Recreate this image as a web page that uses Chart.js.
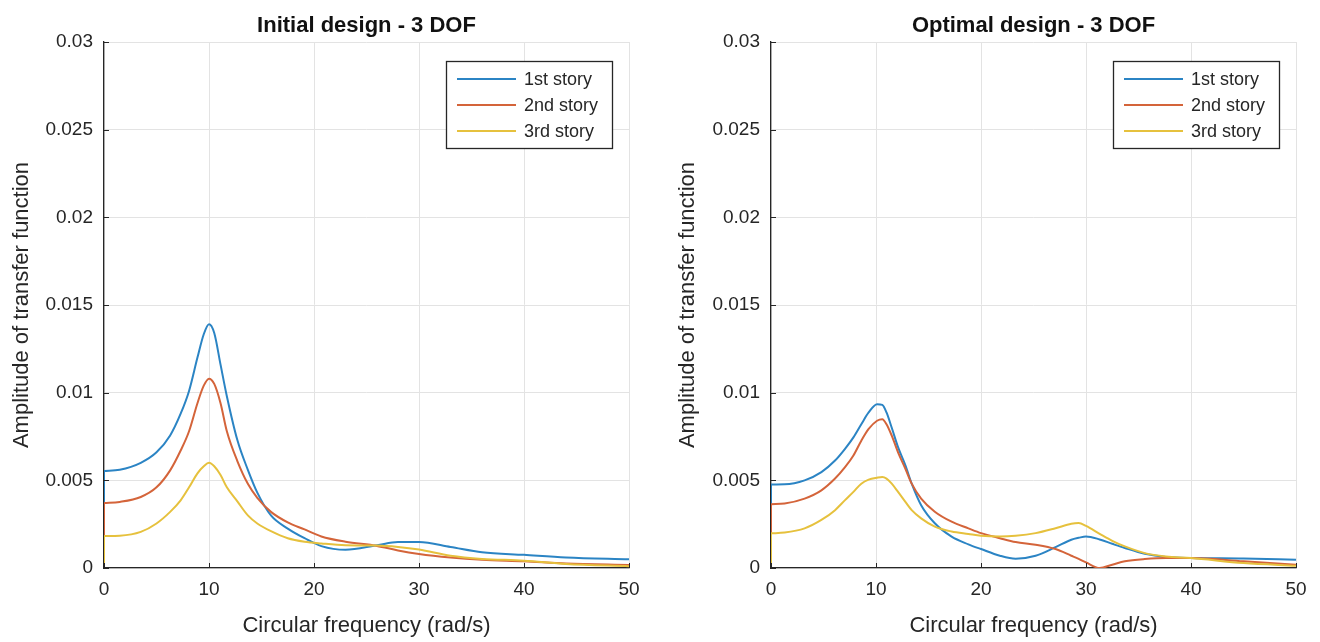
<!DOCTYPE html>
<html>
<head>
<meta charset="utf-8">
<title>Transfer function - 3 DOF</title>
<script src="https://cdn.jsdelivr.net/npm/chart.js@4.4.1/dist/chart.umd.min.js"></script>
<style>
  body { margin: 0; background: #ffffff; }
  .panel { position: absolute; top: 0; width: 660px; height: 642px; }
  #leftPanel { left: 0; }
  #rightPanel { left: 660px; }
</style>
</head>
<body>
<div class="panel" id="leftPanel"><canvas id="initialChart" width="660" height="642"></canvas></div>
<div class="panel" id="rightPanel"><canvas id="optimalChart" width="660" height="642"></canvas></div>
<script>
// series names and tick labels
const seriesLabels = ['1st story', '2nd story', '3rd story'];
const xTickLabels = ['0', '10', '20', '30', '40', '50'];
const yTickLabels = ['0', '0.005', '0.01', '0.015', '0.02', '0.025', '0.03'];

// Initial design
const freqInitial = [0, 1.5, 3.5, 5, 6.3, 7.3, 8.1, 8.9, 9.5, 10, 10.5, 11.1, 11.7, 12.7, 13.7, 14.6, 15.9, 17.5, 19.1, 20.7, 23, 26, 28, 30, 33, 36, 40, 44, 50];
const initial1st = [0.00553, 0.0056, 0.006, 0.0066, 0.00756, 0.0088, 0.0101, 0.012, 0.01333, 0.0139, 0.0134, 0.0116, 0.0098, 0.0073, 0.0056, 0.0043, 0.0030, 0.00225, 0.0017, 0.00125, 0.00104, 0.0013, 0.00148, 0.00148, 0.0012, 0.0009, 0.00075, 0.0006, 0.0005];
const initial2nd = [0.0037, 0.00377, 0.00405, 0.0046, 0.00557, 0.0067, 0.0078, 0.0094, 0.0104, 0.0108, 0.0105, 0.0094, 0.0078, 0.0061, 0.0048, 0.0040, 0.0032, 0.0026, 0.0022, 0.0018, 0.0015, 0.00126, 0.0010, 0.0008, 0.0006, 0.00047, 0.00038, 0.00026, 0.00017];
const initial3rd = [0.00182, 0.00184, 0.00206, 0.00254, 0.0032, 0.00386, 0.0046, 0.0054, 0.0058, 0.0060, 0.0058, 0.0053, 0.0046, 0.0038, 0.0030, 0.00254, 0.0021, 0.0017, 0.0015, 0.0014, 0.0013, 0.00128, 0.0012, 0.00105, 0.0007, 0.00052, 0.00042, 0.00023, 0.0001];

// Optimal design
const freqOptimal = [0, 1.3, 3.2, 4.8, 6.1, 7.05, 7.85, 8.6, 9.3, 10.1, 10.6, 11, 11.5, 12.1, 12.8, 13.4, 14.3, 15.6, 17.2, 18.8, 20, 21.8, 23.3, 25.2, 27.1, 28.6, 29.3, 30, 31.3, 32.5, 33.7, 35.6, 37.6, 40, 45, 50];
const optimal1st = [0.00476, 0.00477, 0.005, 0.00547, 0.00613, 0.0068, 0.00745, 0.0082, 0.00887, 0.00934, 0.0093, 0.00887, 0.008, 0.00689, 0.00585, 0.00481, 0.00358, 0.00255, 0.00179, 0.00135, 0.00108, 0.0007, 0.00053, 0.0007, 0.00119, 0.00161, 0.00172, 0.0018, 0.00163, 0.00138, 0.00114, 0.00081, 0.00063, 0.00057, 0.00054, 0.00047];
const optimal2nd = [0.00364, 0.00368, 0.00396, 0.00443, 0.0051, 0.00575, 0.00642, 0.00726, 0.00793, 0.0084, 0.00849, 0.0082, 0.00755, 0.0066, 0.00566, 0.00481, 0.00396, 0.00321, 0.00264, 0.00226, 0.00199, 0.0017, 0.00148, 0.00133, 0.00108, 0.0007, 0.00052, 0.00032, 0, 0.00019, 0.00038, 0.00051, 0.00057, 0.00057, 0.00038, 0.00019];
const optimal3rd = [0.00198, 0.00202, 0.00226, 0.00274, 0.0033, 0.00387, 0.00434, 0.00481, 0.00504, 0.00515, 0.00519, 0.0051, 0.00481, 0.00434, 0.00377, 0.0033, 0.00283, 0.00236, 0.00208, 0.00194, 0.00184, 0.0018, 0.00184, 0.00199, 0.00227, 0.00252, 0.00256, 0.0024, 0.00195, 0.00155, 0.00123, 0.00085, 0.00066, 0.00057, 0.00028, 0.00013];

const lineColors = ['#2b84c4', '#d4643a', '#e6c13d'];
const axisColor = '#262626';
const fontFamily = '"Liberation Sans", Arial, sans-serif';

// legend box drawn inside the top right corner of the plot
const boxLegend = {
    id: 'boxLegend',
    afterDatasetsDraw(chart) {
        const ctx = chart.ctx;
        const area = chart.chartArea;
        const w = 166, h = 87;
        const x0 = Math.round(area.right - 17 - w);
        const y0 = Math.round(area.top + 19);
        ctx.save();
        ctx.fillStyle = '#ffffff';
        ctx.fillRect(x0, y0, w, h);
        ctx.strokeStyle = axisColor;
        ctx.lineWidth = 1.3;
        ctx.strokeRect(x0 + 0.5, y0 + 0.5, w, h);
        chart.data.datasets.filter(ds => ds.inLegend).forEach((ds, i) => {
            const y = y0 + 18 + i * 26;
            ctx.strokeStyle = ds.borderColor;
            ctx.lineWidth = 1.8;
            ctx.beginPath();
            ctx.moveTo(x0 + 11, y);
            ctx.lineTo(x0 + 70, y);
            ctx.stroke();
            ctx.fillStyle = axisColor;
            ctx.font = '18px ' + fontFamily;
            ctx.textBaseline = 'middle';
            ctx.fillText(ds.label, x0 + 78, y + 1);
        });
        ctx.restore();
    }
};

// small tick marks pointing into the plot, like matlab
const innerTicks = {
    id: 'innerTicks',
    afterDraw(chart) {
        const ctx = chart.ctx;
        const xs = chart.scales.x, ys = chart.scales.y;
        ctx.save();
        ctx.strokeStyle = axisColor;
        ctx.lineWidth = 1;
        ctx.beginPath();
        xs.ticks.forEach(t => {
            const px = Math.round(xs.getPixelForValue(t.value)) + 0.5;
            ctx.moveTo(px, ys.bottom);
            ctx.lineTo(px, ys.bottom - 5);
        });
        ys.ticks.forEach(t => {
            const py = Math.round(ys.getPixelForValue(t.value)) + 0.5;
            ctx.moveTo(xs.left, py);
            ctx.lineTo(xs.left + 5, py);
        });
        ctx.stroke();
        ctx.restore();
    }
};

function makeChart(canvasId, titleText, freq, series, yAxisWidth, rightPad, yTitlePad) {
    const datasets = [];
    series.forEach((vals, i) => {
        // the curve itself
        datasets.push({
            label: seriesLabels[i],
            inLegend: true,
            data: freq.map((f, j) => ({ x: f, y: vals[j] })),
            borderColor: lineColors[i],
            backgroundColor: lineColors[i],
            borderWidth: 2,
            pointRadius: 0,
            cubicInterpolationMode: 'monotone',
            order: 3 - i   // 3rd story on top
        });
        // the jump from zero at the first frequency
        datasets.push({
            label: seriesLabels[i] + ' start',
            inLegend: false,
            data: [{ x: freq[0], y: 0 }, { x: freq[0], y: vals[0] }],
            borderColor: lineColors[i],
            borderWidth: 2,
            pointRadius: 0,
            order: 3 - i
        });
    });

    new Chart(document.getElementById(canvasId), {
        type: 'line',
        data: { datasets: datasets },
        options: {
            responsive: false,
            animation: false,
            layout: { padding: { left: 0, right: rightPad, top: 0, bottom: 0 } },
            plugins: {
                legend: { display: false },
                tooltip: { enabled: false },
                title: {
                    display: true,
                    text: titleText,
                    fullSize: false,
                    color: '#111111',
                    font: { family: fontFamily, size: 22, weight: 'bold' },
                    padding: { top: 13, bottom: 2.6 }
                }
            },
            scales: {
                x: {
                    type: 'linear',
                    min: 0,
                    max: 50,
                    afterFit: (scale) => { scale.height = 74; },
                    ticks: {
                        stepSize: 10,
                        padding: 10,
                        color: axisColor,
                        font: { family: fontFamily, size: 19 },
                        callback: (v, i) => xTickLabels[i]
                    },
                    grid: { color: '#e3e3e3', drawTicks: false },
                    border: { color: axisColor, width: 1.3 },
                    title: {
                        display: true,
                        text: 'Circular frequency (rad/s)',
                        color: axisColor,
                        font: { family: fontFamily, size: 22 },
                        padding: { top: 0, bottom: 3 }
                    }
                },
                y: {
                    min: 0,
                    max: 0.03,
                    afterFit: (scale) => { scale.width = yAxisWidth; },
                    ticks: {
                        stepSize: 0.005,
                        padding: 11,
                        color: axisColor,
                        font: { family: fontFamily, size: 19 },
                        callback: (v, i) => yTickLabels[i]
                    },
                    grid: { color: '#e3e3e3', drawTicks: false },
                    border: { color: axisColor, width: 1.3 },
                    title: {
                        display: true,
                        text: 'Amplitude of transfer function',
                        color: axisColor,
                        font: { family: fontFamily, size: 22 },
                        padding: { top: yTitlePad, bottom: 0 }
                    }
                }
            }
        },
        plugins: [boxLegend, innerTicks]
    });
}

makeChart('initialChart', 'Initial design - 3 DOF', freqInitial, [initial1st, initial2nd, initial3rd], 104, 31, 9);
makeChart('optimalChart', 'Optimal design - 3 DOF', freqOptimal, [optimal1st, optimal2nd, optimal3rd], 111, 24, 15);
</script>
</body>
</html>
